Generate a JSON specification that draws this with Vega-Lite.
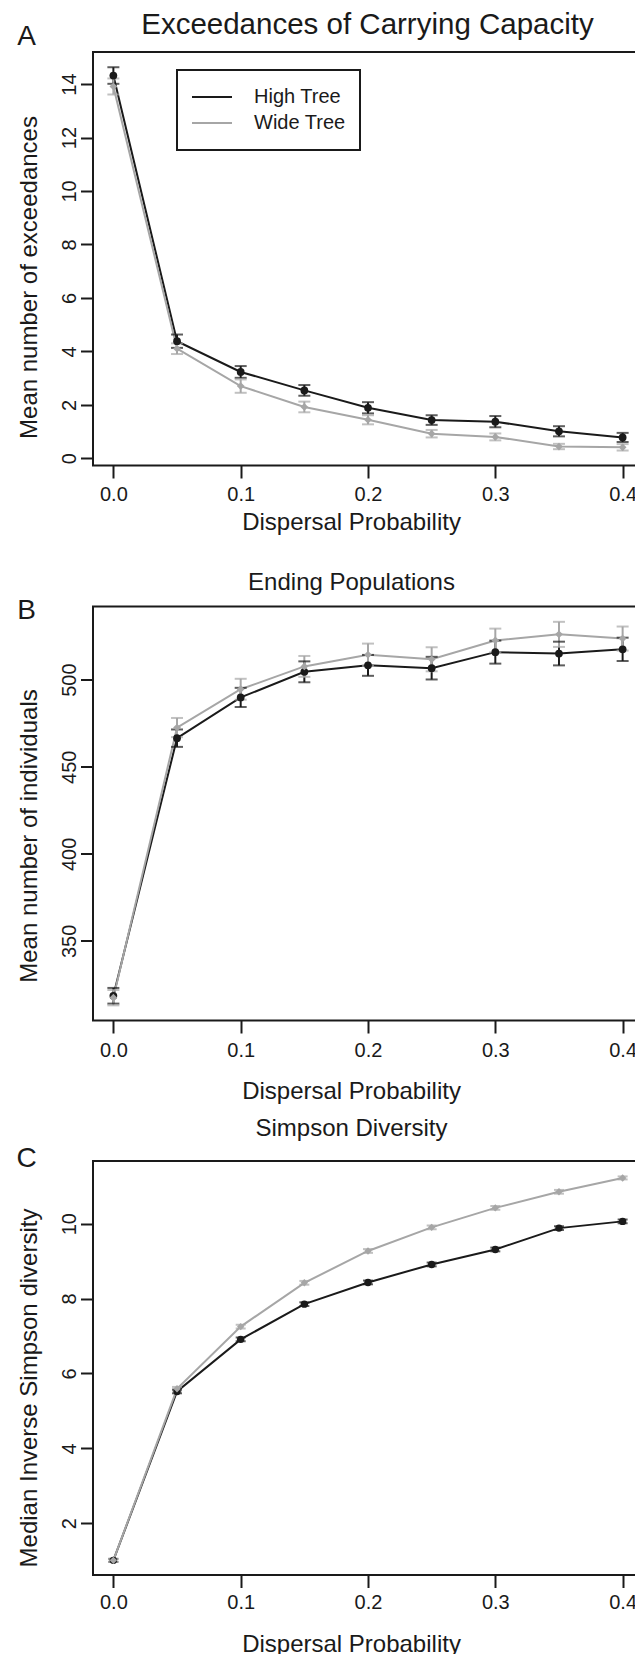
{
  "$schema": "https://vega.github.io/schema/vega-lite/v6.json",
  "autosize": {"type": "pad"},
  "padding": {"left": 14, "top": 8, "right": 0, "bottom": 0},
  "background": "white",
  "bounds": "flush",
  "spacing": 140.5,
  "resolve": {"scale": {"color": "independent"}, "legend": {"color": "independent"}},
  "config": {
    "font": "Liberation Sans",
    "view": {"stroke": "#1a1a1a", "strokeWidth": 2},
    "axis": {
      "grid": false, "domain": false,
      "labelFont": "Liberation Sans", "labelFontSize": 20, "labelColor": "#1a1a1a",
      "tickColor": "#1a1a1a", "tickWidth": 2, "tickSize": 12.5,
      "titleFont": "Liberation Sans", "titleFontWeight": "normal", "titleColor": "#1a1a1a", "titleFontSize": 24
    }
  },
  "datasets": {
    "exc": [
      {"p": 0.00, "tree": "High Tree", "m": 14.32, "lo": 14.01, "hi": 14.63},
      {"p": 0.05, "tree": "High Tree", "m": 4.38, "lo": 4.13, "hi": 4.63},
      {"p": 0.10, "tree": "High Tree", "m": 3.23, "lo": 3.01, "hi": 3.45},
      {"p": 0.15, "tree": "High Tree", "m": 2.54, "lo": 2.34, "hi": 2.74},
      {"p": 0.20, "tree": "High Tree", "m": 1.89, "lo": 1.68, "hi": 2.10},
      {"p": 0.25, "tree": "High Tree", "m": 1.43, "lo": 1.25, "hi": 1.61},
      {"p": 0.30, "tree": "High Tree", "m": 1.37, "lo": 1.16, "hi": 1.58},
      {"p": 0.35, "tree": "High Tree", "m": 1.01, "lo": 0.82, "hi": 1.20},
      {"p": 0.40, "tree": "High Tree", "m": 0.78, "lo": 0.61, "hi": 0.95},
      {"p": 0.00, "tree": "Wide Tree", "m": 13.91, "lo": 13.61, "hi": 14.21},
      {"p": 0.05, "tree": "Wide Tree", "m": 4.10, "lo": 3.90, "hi": 4.30},
      {"p": 0.10, "tree": "Wide Tree", "m": 2.70, "lo": 2.45, "hi": 2.95},
      {"p": 0.15, "tree": "Wide Tree", "m": 1.92, "lo": 1.72, "hi": 2.12},
      {"p": 0.20, "tree": "Wide Tree", "m": 1.44, "lo": 1.27, "hi": 1.61},
      {"p": 0.25, "tree": "Wide Tree", "m": 0.92, "lo": 0.78, "hi": 1.06},
      {"p": 0.30, "tree": "Wide Tree", "m": 0.80, "lo": 0.67, "hi": 0.93},
      {"p": 0.35, "tree": "Wide Tree", "m": 0.44, "lo": 0.34, "hi": 0.54},
      {"p": 0.40, "tree": "Wide Tree", "m": 0.41, "lo": 0.29, "hi": 0.53}
    ],
    "pop": [
      {"p": 0.00, "tree": "High Tree", "m": 318.5, "lo": 314.0, "hi": 323.0},
      {"p": 0.05, "tree": "High Tree", "m": 466.4, "lo": 461.4, "hi": 471.4},
      {"p": 0.10, "tree": "High Tree", "m": 489.8, "lo": 484.3, "hi": 495.3},
      {"p": 0.15, "tree": "High Tree", "m": 504.5, "lo": 498.5, "hi": 510.5},
      {"p": 0.20, "tree": "High Tree", "m": 508.2, "lo": 502.2, "hi": 514.2},
      {"p": 0.25, "tree": "High Tree", "m": 506.6, "lo": 500.1, "hi": 513.1},
      {"p": 0.30, "tree": "High Tree", "m": 515.8, "lo": 509.2, "hi": 522.4},
      {"p": 0.35, "tree": "High Tree", "m": 515.0, "lo": 508.2, "hi": 521.8},
      {"p": 0.40, "tree": "High Tree", "m": 517.4, "lo": 510.7, "hi": 524.1},
      {"p": 0.00, "tree": "Wide Tree", "m": 317.4, "lo": 313.0, "hi": 321.8},
      {"p": 0.05, "tree": "Wide Tree", "m": 472.5, "lo": 467.0, "hi": 478.0},
      {"p": 0.10, "tree": "Wide Tree", "m": 494.5, "lo": 488.5, "hi": 500.5},
      {"p": 0.15, "tree": "Wide Tree", "m": 507.6, "lo": 501.6, "hi": 513.6},
      {"p": 0.20, "tree": "Wide Tree", "m": 514.3, "lo": 507.9, "hi": 520.7},
      {"p": 0.25, "tree": "Wide Tree", "m": 511.7, "lo": 504.8, "hi": 518.6},
      {"p": 0.30, "tree": "Wide Tree", "m": 522.5, "lo": 515.7, "hi": 529.3},
      {"p": 0.35, "tree": "Wide Tree", "m": 526.0, "lo": 518.8, "hi": 533.2},
      {"p": 0.40, "tree": "Wide Tree", "m": 523.6, "lo": 516.7, "hi": 530.5}
    ],
    "sim": [
      {"p": 0.00, "tree": "High Tree", "m": 1.01, "lo": 0.97, "hi": 1.05},
      {"p": 0.05, "tree": "High Tree", "m": 5.52, "lo": 5.47, "hi": 5.57},
      {"p": 0.10, "tree": "High Tree", "m": 6.91, "lo": 6.86, "hi": 6.96},
      {"p": 0.15, "tree": "High Tree", "m": 7.85, "lo": 7.80, "hi": 7.90},
      {"p": 0.20, "tree": "High Tree", "m": 8.43, "lo": 8.38, "hi": 8.48},
      {"p": 0.25, "tree": "High Tree", "m": 8.91, "lo": 8.86, "hi": 8.96},
      {"p": 0.30, "tree": "High Tree", "m": 9.31, "lo": 9.26, "hi": 9.36},
      {"p": 0.35, "tree": "High Tree", "m": 9.88, "lo": 9.83, "hi": 9.93},
      {"p": 0.40, "tree": "High Tree", "m": 10.06, "lo": 10.01, "hi": 10.11},
      {"p": 0.00, "tree": "Wide Tree", "m": 1.01, "lo": 0.97, "hi": 1.05},
      {"p": 0.05, "tree": "Wide Tree", "m": 5.59, "lo": 5.54, "hi": 5.64},
      {"p": 0.10, "tree": "Wide Tree", "m": 7.25, "lo": 7.20, "hi": 7.30},
      {"p": 0.15, "tree": "Wide Tree", "m": 8.42, "lo": 8.37, "hi": 8.47},
      {"p": 0.20, "tree": "Wide Tree", "m": 9.27, "lo": 9.22, "hi": 9.32},
      {"p": 0.25, "tree": "Wide Tree", "m": 9.90, "lo": 9.85, "hi": 9.95},
      {"p": 0.30, "tree": "Wide Tree", "m": 10.42, "lo": 10.37, "hi": 10.47},
      {"p": 0.35, "tree": "Wide Tree", "m": 10.85, "lo": 10.80, "hi": 10.90},
      {"p": 0.40, "tree": "Wide Tree", "m": 11.22, "lo": 11.18, "hi": 11.26}
    ]
  },
  "vconcat": [
    {
      "width": 550, "height": 413.5,
      "data": {"name": "exc"},
      "resolve": {"axis": {"x": "independent", "y": "independent"}},
      "layer": [
        {
          "mark": {"type": "line", "strokeWidth": 2},
          "encoding": {
            "x": {"field": "p", "type": "quantitative", "scale": {"domain": [-0.016, 0.416], "nice": false, "zero": false},
              "axis": {"orient": "bottom", "values": [0, 0.1, 0.2, 0.3, 0.4], "format": ".1f", "labelPadding": 6, "labelFlush": false, "labelOverlap": false,
                "title": "Dispersal Probability", "titleX": 258, "titleY": 64, "titleAlign": "center", "titleBaseline": "alphabetic", "titleAngle": 0}},
            "y": {"field": "m", "type": "quantitative", "scale": {"domain": [-0.27, 15.2], "nice": false, "zero": false},
              "axis": {"orient": "left", "values": [0, 2, 4, 6, 8, 10, 12, 14], "labelAngle": -90, "labelAlign": "center", "labelBaseline": "alphabetic", "labelPadding": 5, "labelFlush": false, "labelOverlap": false,
                "title": "Mean number of exceedances", "titleX": -56.7, "titleY": 225, "titleAngle": 270, "titleAlign": "center", "titleBaseline": "alphabetic"}},
            "color": {"field": "tree", "type": "nominal", "scale": {"domain": ["High Tree", "Wide Tree"], "range": ["#1a1a1a", "#a6a6a6"]},
              "legend": {"orient": "none", "legendX": 84, "legendY": 18, "title": null, "symbolType": "stroke", "symbolSize": 1600, "symbolStrokeWidth": 2, "clipHeight": 26,
                "labelFontSize": 20, "labelFont": "Liberation Sans", "labelColor": "#1a1a1a", "labelOffset": 21, "rowPadding": 0, "padding": 14, "strokeColor": "#1a1a1a",
                "encode": {"legend": {"update": {"strokeWidth": {"value": 2}}}}}}
          }
        },
        {
          "mark": {"type": "rule", "strokeWidth": 2},
          "encoding": {
            "x": {"field": "p", "type": "quantitative", "axis": null},
            "y": {"field": "lo", "type": "quantitative", "axis": null},
            "y2": {"field": "hi"},
            "color": {"field": "tree", "type": "nominal", "legend": null}
          }
        },
        {
          "mark": {"type": "tick", "orient": "horizontal", "size": 12, "thickness": 2},
          "encoding": {
            "x": {"field": "p", "type": "quantitative", "axis": null},
            "y": {"field": "lo", "type": "quantitative", "axis": null},
            "color": {"field": "tree", "type": "nominal", "legend": null}
          }
        },
        {
          "mark": {"type": "tick", "orient": "horizontal", "size": 12, "thickness": 2},
          "encoding": {
            "x": {"field": "p", "type": "quantitative", "axis": null},
            "y": {"field": "hi", "type": "quantitative", "axis": null},
            "color": {"field": "tree", "type": "nominal", "legend": null}
          }
        },
        {
          "transform": [{"filter": "datum.tree === 'Wide Tree'"}],
          "mark": {"type": "point", "filled": true, "opacity": 1, "size": 60, "shape": "diamond"},
          "encoding": {
            "x": {"field": "p", "type": "quantitative", "axis": null},
            "y": {"field": "m", "type": "quantitative", "axis": null},
            "color": {"field": "tree", "type": "nominal", "legend": null}
          }
        },
        {
          "transform": [{"filter": "datum.tree === 'High Tree'"}],
          "mark": {"type": "point", "filled": true, "opacity": 1, "size": 60, "shape": "circle"},
          "encoding": {
            "x": {"field": "p", "type": "quantitative",
              "axis": {"orient": "top", "domain": false, "ticks": false, "labels": false, "title": "Exceedances of Carrying Capacity", "titleFontSize": 29.5,
                "titleX": 274, "titleY": -19, "titleAlign": "center", "titleBaseline": "alphabetic", "titleAngle": 0}},
            "y": {"field": "m", "type": "quantitative",
              "axis": {"orient": "right", "domain": false, "ticks": false, "labels": false, "title": "A", "titleFontSize": 28,
                "titleX": -617, "titleY": -8, "titleAlign": "center", "titleBaseline": "alphabetic", "titleAngle": 0}},
            "color": {"field": "tree", "type": "nominal", "legend": null}
          }
        }
      ]
    },
    {
      "width": 550, "height": 414,
      "data": {"name": "pop"},
      "resolve": {"axis": {"x": "independent", "y": "independent"}},
      "layer": [
        {
          "mark": {"type": "line", "strokeWidth": 2},
          "encoding": {
            "x": {"field": "p", "type": "quantitative", "scale": {"domain": [-0.016, 0.416], "nice": false, "zero": false},
              "axis": {"orient": "bottom", "values": [0, 0.1, 0.2, 0.3, 0.4], "format": ".1f", "labelPadding": 7, "labelFlush": false, "labelOverlap": false,
                "title": "Dispersal Probability", "titleX": 258, "titleY": 78.4, "titleAlign": "center", "titleBaseline": "alphabetic", "titleAngle": 0}},
            "y": {"field": "m", "type": "quantitative", "scale": {"domain": [304.3, 542.0], "nice": false, "zero": false},
              "axis": {"orient": "left", "values": [350, 400, 450, 500], "labelAngle": -90, "labelAlign": "center", "labelBaseline": "alphabetic", "labelPadding": 5, "labelFlush": false, "labelOverlap": false,
                "title": "Mean number of individuals", "titleX": -56.7, "titleY": 229, "titleAngle": 270, "titleAlign": "center", "titleBaseline": "alphabetic"}},
            "color": {"field": "tree", "type": "nominal", "scale": {"domain": ["High Tree", "Wide Tree"], "range": ["#1a1a1a", "#a6a6a6"]}, "legend": null}
          }
        },
        {
          "mark": {"type": "rule", "strokeWidth": 2},
          "encoding": {
            "x": {"field": "p", "type": "quantitative", "axis": null},
            "y": {"field": "lo", "type": "quantitative", "axis": null},
            "y2": {"field": "hi"},
            "color": {"field": "tree", "type": "nominal", "legend": null}
          }
        },
        {
          "mark": {"type": "tick", "orient": "horizontal", "size": 12, "thickness": 2},
          "encoding": {
            "x": {"field": "p", "type": "quantitative", "axis": null},
            "y": {"field": "lo", "type": "quantitative", "axis": null},
            "color": {"field": "tree", "type": "nominal", "legend": null}
          }
        },
        {
          "mark": {"type": "tick", "orient": "horizontal", "size": 12, "thickness": 2},
          "encoding": {
            "x": {"field": "p", "type": "quantitative", "axis": null},
            "y": {"field": "hi", "type": "quantitative", "axis": null},
            "color": {"field": "tree", "type": "nominal", "legend": null}
          }
        },
        {
          "transform": [{"filter": "datum.tree === 'High Tree'"}],
          "mark": {"type": "point", "filled": true, "opacity": 1, "size": 60, "shape": "circle"},
          "encoding": {
            "x": {"field": "p", "type": "quantitative", "axis": null},
            "y": {"field": "m", "type": "quantitative", "axis": null},
            "color": {"field": "tree", "type": "nominal", "legend": null}
          }
        },
        {
          "transform": [{"filter": "datum.tree === 'Wide Tree'"}],
          "mark": {"type": "point", "filled": true, "opacity": 1, "size": 60, "shape": "diamond"},
          "encoding": {
            "x": {"field": "p", "type": "quantitative",
              "axis": {"orient": "top", "domain": false, "ticks": false, "labels": false, "title": "Ending Populations", "titleFontSize": 24,
                "titleX": 258, "titleY": -16.7, "titleAlign": "center", "titleBaseline": "alphabetic", "titleAngle": 0}},
            "y": {"field": "m", "type": "quantitative",
              "axis": {"orient": "right", "domain": false, "ticks": false, "labels": false, "title": "B", "titleFontSize": 28,
                "titleX": -617, "titleY": 12, "titleAlign": "center", "titleBaseline": "alphabetic", "titleAngle": 0}},
            "color": {"field": "tree", "type": "nominal", "legend": null}
          }
        }
      ]
    },
    {
      "width": 550, "height": 414,
      "data": {"name": "sim"},
      "resolve": {"axis": {"x": "independent", "y": "independent"}},
      "layer": [
        {
          "mark": {"type": "line", "strokeWidth": 2},
          "encoding": {
            "x": {"field": "p", "type": "quantitative", "scale": {"domain": [-0.016, 0.416], "nice": false, "zero": false},
              "axis": {"orient": "bottom", "values": [0, 0.1, 0.2, 0.3, 0.4], "format": ".1f", "labelPadding": 5, "labelFlush": false, "labelOverlap": false,
                "title": "Dispersal Probability", "titleX": 258, "titleY": 76.2, "titleAlign": "center", "titleBaseline": "alphabetic", "titleAngle": 0}},
            "y": {"field": "m", "type": "quantitative", "scale": {"domain": [0.619, 11.672], "nice": false, "zero": false},
              "axis": {"orient": "left", "values": [2, 4, 6, 8, 10], "labelAngle": -90, "labelAlign": "center", "labelBaseline": "alphabetic", "labelPadding": 5, "labelFlush": false, "labelOverlap": false,
                "title": "Median Inverse Simpson diversity", "titleX": -56.7, "titleY": 226.5, "titleAngle": 270, "titleAlign": "center", "titleBaseline": "alphabetic"}},
            "color": {"field": "tree", "type": "nominal", "scale": {"domain": ["High Tree", "Wide Tree"], "range": ["#1a1a1a", "#a6a6a6"]}, "legend": null}
          }
        },
        {
          "mark": {"type": "rule", "strokeWidth": 2},
          "encoding": {
            "x": {"field": "p", "type": "quantitative", "axis": null},
            "y": {"field": "lo", "type": "quantitative", "axis": null},
            "y2": {"field": "hi"},
            "color": {"field": "tree", "type": "nominal", "legend": null}
          }
        },
        {
          "mark": {"type": "tick", "orient": "horizontal", "size": 10, "thickness": 2},
          "encoding": {
            "x": {"field": "p", "type": "quantitative", "axis": null},
            "y": {"field": "lo", "type": "quantitative", "axis": null},
            "color": {"field": "tree", "type": "nominal", "legend": null}
          }
        },
        {
          "mark": {"type": "tick", "orient": "horizontal", "size": 10, "thickness": 2},
          "encoding": {
            "x": {"field": "p", "type": "quantitative", "axis": null},
            "y": {"field": "hi", "type": "quantitative", "axis": null},
            "color": {"field": "tree", "type": "nominal", "legend": null}
          }
        },
        {
          "transform": [{"filter": "datum.tree === 'High Tree'"}],
          "mark": {"type": "point", "filled": true, "opacity": 1, "size": 55, "shape": "circle"},
          "encoding": {
            "x": {"field": "p", "type": "quantitative", "axis": null},
            "y": {"field": "m", "type": "quantitative", "axis": null},
            "color": {"field": "tree", "type": "nominal", "legend": null}
          }
        },
        {
          "transform": [{"filter": "datum.tree === 'Wide Tree'"}],
          "mark": {"type": "point", "filled": true, "opacity": 1, "size": 55, "shape": "diamond"},
          "encoding": {
            "x": {"field": "p", "type": "quantitative",
              "axis": {"orient": "top", "domain": false, "ticks": false, "labels": false, "title": "Simpson Diversity", "titleFontSize": 24,
                "titleX": 258, "titleY": -25.5, "titleAlign": "center", "titleBaseline": "alphabetic", "titleAngle": 0}},
            "y": {"field": "m", "type": "quantitative",
              "axis": {"orient": "right", "domain": false, "ticks": false, "labels": false, "title": "C", "titleFontSize": 28,
                "titleX": -617, "titleY": 5, "titleAlign": "center", "titleBaseline": "alphabetic", "titleAngle": 0}},
            "color": {"field": "tree", "type": "nominal", "legend": null}
          }
        }
      ]
    }
  ]
}
